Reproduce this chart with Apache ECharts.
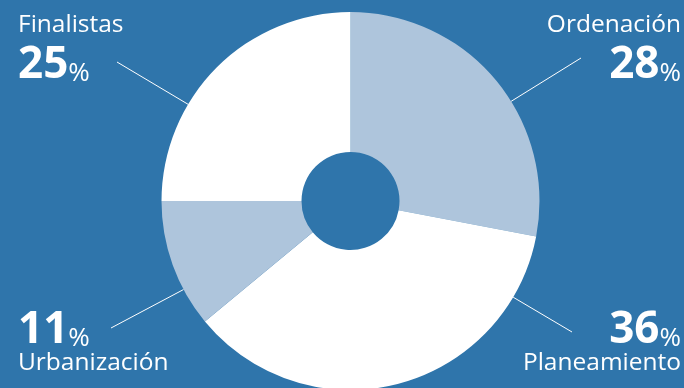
<!DOCTYPE html>
<html>
<head>
<meta charset="utf-8">
<script src="https://cdn.jsdelivr.net/npm/echarts@6/dist/echarts.min.js"></script>
<style>
html,body{margin:0;padding:0;background:#2f75ab;}
#c{width:684px;height:388px;}
</style>
</head>
<body>
<div id="c"></div>
<script>
// ---- data ----
const categories = ['Ordenación', 'Planeamiento', 'Urbanización', 'Finalistas'];
const values = [28, 36, 11, 25];

// ---- styles / layout ----
const sliceColors = ['#aec5dc', '#ffffff', '#aec5dc', '#ffffff'];
const labelBoxes = [
  { x: 681, y: 12, align: 'right', top: true },
  { x: 681, y: 312, align: 'right', top: false },
  { x: 18, y: 312, align: 'left', top: false },
  { x: 18, y: 12, align: 'left', top: true }
];
const lineStarts = [[581, 58], [572, 332], [111, 328], [117, 62]];

const FONT = '"Open Sans", "Noto Sans", sans-serif';
const center = [350.5, 201];
const radius = [49, 189];

function arcPoint(s) {
  const dx = s[0] - center[0], dy = s[1] - center[1];
  const d = Math.sqrt(dx * dx + dy * dy);
  return [center[0] + dx / d * radius[1], center[1] + dy / d * radius[1]];
}

const chart = echarts.init(document.getElementById('c'));
chart.setOption({
  backgroundColor: '#2f75ab',
  animation: false,
  series: [
    {
      type: 'pie',
      center: center,
      radius: radius,
      startAngle: 90,
      clockwise: true,
      silent: true,
      data: categories.map((c, i) => ({
        name: c, value: values[i],
        itemStyle: { color: sliceColors[i] }
      })),
      labelLine: {
        show: true, length: 0, length2: 0,
        lineStyle: { color: '#ffffff', width: 1 }
      },
      label: {
        show: true,
        width: 220,
        overflow: 'none',
        color: '#ffffff',
        fontFamily: FONT,
        formatter: function (p) {
          if (labelBoxes[p.dataIndex].top) {
            return '{n|' + p.name + '}\n{v|' + p.value + '}{p|%}';
          }
          return '{v2|' + p.value + '}{p2|%}\n{n2|' + p.name + '}';
        },
        rich: {
          n: { fontSize: 24.5, lineHeight: 27, color: '#ffffff', fontFamily: FONT },
          v: { fontSize: 44, fontWeight: 'bold', lineHeight: 48, verticalAlign: 'bottom', color: '#ffffff', fontFamily: FONT },
          p: { fontSize: 26, lineHeight: 38, verticalAlign: 'bottom', color: '#ffffff', fontFamily: FONT },
          v2: { fontSize: 44, fontWeight: 'bold', lineHeight: 40, verticalAlign: 'bottom', color: '#ffffff', fontFamily: FONT },
          p2: { fontSize: 26, lineHeight: 31, verticalAlign: 'bottom', color: '#ffffff', fontFamily: FONT },
          n2: { fontSize: 24.5, lineHeight: 22, color: '#ffffff', fontFamily: FONT }
        }
      },
      labelLayout: function (p) {
        const L = labelBoxes[p.dataIndex];
        const s = lineStarts[p.dataIndex];
        return {
          x: L.x, y: L.y, align: L.align, verticalAlign: 'top',
          labelLinePoints: [s, arcPoint(s)]
        };
      }
    }
  ]
});
</script>
</body>
</html>
